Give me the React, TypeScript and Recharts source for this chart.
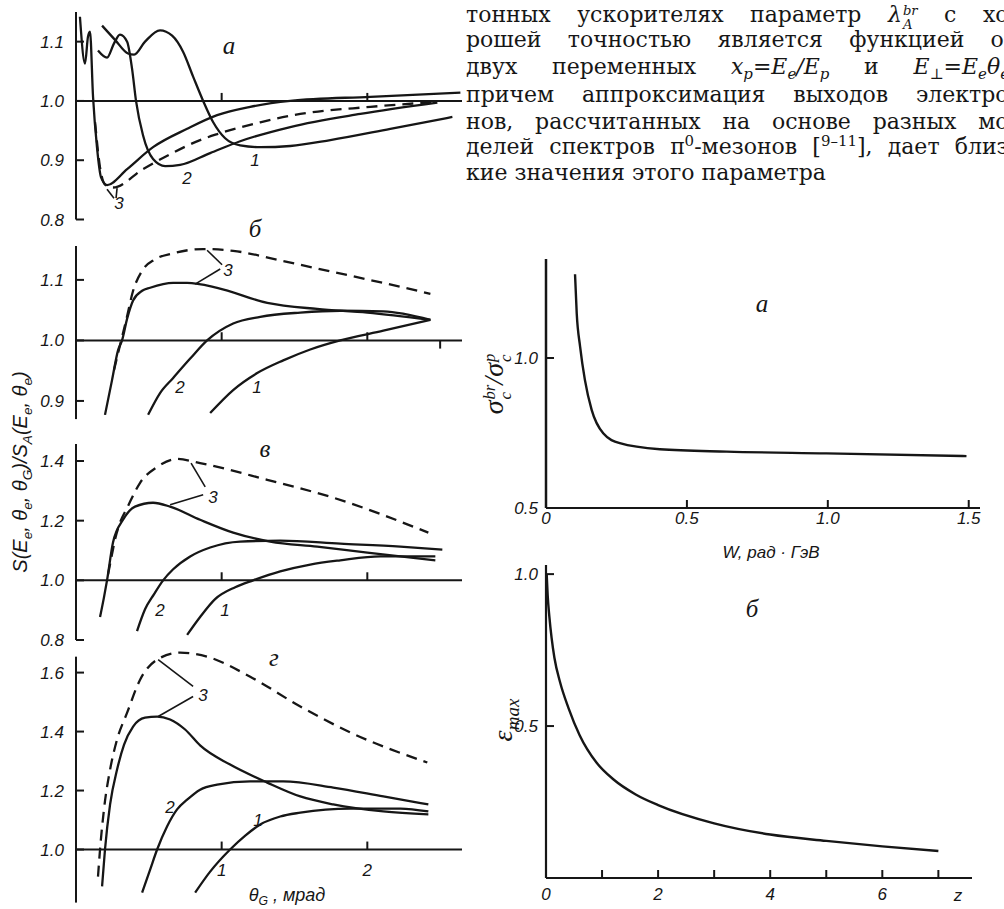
import React from 'react';
import { LineChart, Line, XAxis, YAxis, ReferenceLine } from 'recharts';

const INK = '#161616';
const SANS = "'Liberation Sans Narrow','Liberation Sans',Arial,sans-serif";
const SERIF = "'DejaVu Serif','Liberation Serif',serif";

// θ_G (мрад) → S/S_A, panel а
const a1 = [[0.179, 1.127], [0.268, 1.103], [0.357, 1.08], [0.399, 1.078], [0.474, 1.1], [0.577, 1.119], [0.66, 1.11], [0.735, 1.083], [0.804, 1.041], [0.873, 1.0], [0.942, 0.964], [1.024, 0.937], [1.127, 0.925], [1.265, 0.922], [1.471, 0.924], [1.746, 0.934], [2.158, 0.953], [2.584, 0.973]];
const a2 = [[0.151, 1.085], [0.213, 1.073], [0.261, 1.097], [0.302, 1.112], [0.351, 1.1], [0.385, 1.054], [0.412, 1.0], [0.46, 0.942], [0.529, 0.902], [0.612, 0.89], [0.715, 0.892], [0.921, 0.912], [1.127, 0.932], [1.471, 0.956], [1.952, 0.978], [2.481, 0.997]];
const a3 = [[0.027, 1.142], [0.062, 1.063], [0.082, 1.108], [0.096, 1.117], [0.117, 1.007], [0.144, 0.922], [0.172, 0.871], [0.213, 0.858], [0.351, 0.885], [0.529, 0.922], [0.763, 0.953], [0.969, 0.976], [1.196, 0.99], [1.471, 1.0], [2.021, 1.007], [2.639, 1.014]];
const a3d = [[0.131, 0.964], [0.165, 0.888], [0.199, 0.859], [0.254, 0.854], [0.46, 0.885], [0.646, 0.91], [0.852, 0.934], [0.969, 0.944], [1.265, 0.964], [1.54, 0.978], [2.021, 0.99], [2.454, 0.998]];

// panel б
const b1 = [[0.921, 0.88], [1.079, 0.918], [1.244, 0.946], [1.423, 0.967], [1.608, 0.985], [1.814, 1.0], [2.11, 1.016], [2.433, 1.034]];
const b2 = [[0.495, 0.877], [0.577, 0.913], [0.667, 0.938], [0.784, 0.97], [0.9, 1.0], [1.079, 1.028], [1.265, 1.039], [1.54, 1.046], [1.814, 1.049], [2.11, 1.048], [2.433, 1.034]];
const b3 = [[0.199, 0.877], [0.247, 0.934], [0.289, 0.984], [0.316, 1.0], [0.351, 1.036], [0.392, 1.066], [0.454, 1.082], [0.509, 1.087], [0.667, 1.095], [0.763, 1.095], [0.969, 1.087], [1.313, 1.062], [1.656, 1.052], [2.0, 1.046], [2.433, 1.034]];
const b3d = [[0.261, 0.951], [0.302, 0.992], [0.344, 1.033], [0.392, 1.082], [0.454, 1.115], [0.543, 1.134], [0.667, 1.144], [0.873, 1.151], [1.079, 1.148], [1.423, 1.131], [1.766, 1.113], [2.11, 1.095], [2.433, 1.077]];

// panel в
const c1 = [[0.763, 0.817], [0.852, 0.877], [0.955, 0.937], [1.093, 0.977], [1.216, 1.0], [1.402, 1.03], [1.608, 1.053], [1.814, 1.067], [2.089, 1.08], [2.467, 1.08]];
const c2 = [[0.419, 0.83], [0.474, 0.903], [0.535, 0.953], [0.598, 1.0], [0.667, 1.037], [0.784, 1.08], [0.921, 1.11], [1.127, 1.13], [1.402, 1.133], [1.814, 1.123], [2.227, 1.113], [2.515, 1.103]];
const c3 = [[0.165, 0.877], [0.192, 0.943], [0.213, 1.0], [0.254, 1.127], [0.323, 1.203], [0.405, 1.247], [0.529, 1.26], [0.646, 1.247], [0.852, 1.203], [1.079, 1.16], [1.333, 1.13], [1.656, 1.113], [2.0, 1.093], [2.467, 1.067]];
const c3d = [[0.22, 1.02], [0.247, 1.087], [0.268, 1.137], [0.302, 1.193], [0.351, 1.243], [0.44, 1.327], [0.557, 1.38], [0.694, 1.407], [0.852, 1.393], [1.313, 1.337], [1.766, 1.277], [2.419, 1.16]];

// panel г
const d1 = [[0.818, 0.854], [0.921, 0.925], [1.058, 1.0], [1.162, 1.047], [1.265, 1.085], [1.402, 1.112], [1.54, 1.125], [1.883, 1.139], [2.227, 1.139], [2.419, 1.129]];
const d2 = [[0.454, 0.854], [0.509, 0.932], [0.557, 1.0], [0.625, 1.078], [0.694, 1.136], [0.763, 1.169], [0.852, 1.203], [0.969, 1.22], [1.196, 1.231], [1.423, 1.231], [1.766, 1.21], [2.11, 1.18], [2.419, 1.153]];
const d3 = [[0.179, 0.875], [0.199, 1.0], [0.234, 1.153], [0.282, 1.271], [0.33, 1.356], [0.392, 1.417], [0.474, 1.447], [0.557, 1.451], [0.646, 1.441], [0.749, 1.407], [0.852, 1.353], [1.058, 1.288], [1.313, 1.227], [1.54, 1.18], [1.766, 1.153], [2.11, 1.129], [2.419, 1.119]];
const d3d = [[0.151, 0.908], [0.165, 1.0], [0.192, 1.136], [0.234, 1.271], [0.282, 1.373], [0.351, 1.464], [0.44, 1.576], [0.557, 1.644], [0.715, 1.668], [0.9, 1.654], [1.196, 1.586], [1.54, 1.485], [1.883, 1.397], [2.412, 1.295]];

// leader lines to the "3" labels
const aLead = [[[0.213, 0.851], [0.261, 0.836]], [[0.282, 0.853], [0.275, 0.836]]];
const bLead = [[[0.9, 1.149], [1.003, 1.125]], [[0.818, 1.093], [0.99, 1.118]]];
const cLead = [[[0.79, 1.393], [0.887, 1.313]], [[0.646, 1.253], [0.873, 1.287]]];
const dLead = [[[0.564, 1.644], [0.804, 1.553]], [[0.564, 1.451], [0.804, 1.519]]];

// σ_c^br / σ_c^p vs W
const wVals = [0.103, 0.109, 0.121, 0.138, 0.162, 0.203, 0.262, 0.404, 0.641, 0.995, 1.492];
const sigmaRatio = [1.279, 1.149, 1.038, 0.927, 0.827, 0.749, 0.716, 0.696, 0.688, 0.682, 0.673];

// ε_max vs z
const zVals = [0.012, 0.03, 0.06, 0.1, 0.15, 0.25, 0.4, 0.6, 0.9, 1.2, 1.6, 2.0, 3.0, 4.0, 5.0, 6.0, 7.0];
const epsMax = [1.0, 0.93, 0.86, 0.79, 0.725, 0.645, 0.56, 0.47, 0.38, 0.325, 0.275, 0.24, 0.18, 0.143, 0.122, 0.104, 0.089];

const toPts = (arr: number[][]) => arr.map(([x, y]) => ({ x, y }));
const zip = (xs: number[], ys: number[]) => xs.map((x, i) => ({ x, y: ys[i] }));

const tickStyle = { fontFamily: SANS, fontStyle: 'italic', fontSize: 17, fill: INK };

type Curve = { pts: number[][]; dashed?: boolean };
type Panel = {
  id: string;
  top: number;
  bottom: number;
  domain: [number, number];
  axisTop?: number;
  ticks: number[];
  mark: number;
  curves: Curve[];
  leads: number[][][];
  xLabels?: boolean;
  downTick?: number;
};

const panels: Panel[] = [
  { id: 'a', top: 11.5, bottom: 219, domain: [0.8, 1.15], ticks: [0.8, 0.9, 1.0, 1.1], mark: 0.0135,
    curves: [{ pts: a1 }, { pts: a2 }, { pts: a3 }, { pts: a3d, dashed: true }], leads: aLead },
  { id: 'b', top: 245.6, bottom: 418.7, domain: [0.87, 1.156], ticks: [0.9, 1.0, 1.1], mark: 0.0135,
    curves: [{ pts: b1 }, { pts: b2 }, { pts: b3 }, { pts: b3d, dashed: true }], leads: bLead, downTick: 2.5 },
  { id: 'c', top: 444, bottom: 640, domain: [0.8, 1.457], ticks: [0.8, 1.0, 1.2, 1.4], mark: 0.027,
    curves: [{ pts: c1 }, { pts: c2 }, { pts: c3 }, { pts: c3d, dashed: true }], leads: cLead },
  { id: 'd', top: 649.4, bottom: 903, domain: [0.82, 1.68], axisTop: 1.654, ticks: [1.0, 1.2, 1.4, 1.6], mark: 0.027,
    curves: [{ pts: d1 }, { pts: d2 }, { pts: d3 }, { pts: d3d, dashed: true }], leads: dLead, xLabels: true },
];

const PAD = 12;
const AXIS_W = 56;

function ThetaPanel({ p }: { p: Panel }) {
  const h = p.bottom - p.top;
  const ownAxis = p.axisTop !== undefined;
  return (
    <div style={{ position: 'absolute', left: 76 - AXIS_W, top: p.top - PAD }}>
      <LineChart width={AXIS_W + 386 + PAD} height={h + 2 * PAD} margin={{ top: PAD, right: PAD, bottom: PAD, left: 0 }}>
        <XAxis type="number" dataKey="x" domain={[0, 2.65]} hide allowDataOverflow />
        <YAxis
          type="number"
          domain={p.domain}
          ticks={p.ticks}
          width={AXIS_W}
          allowDataOverflow
          tickSize={-8}
          tickMargin={20}
          axisLine={ownAxis ? false : { stroke: INK, strokeWidth: 2 }}
          tickLine={{ stroke: INK, strokeWidth: 2 }}
          tick={tickStyle}
          tickFormatter={(v: number) => v.toFixed(1)}
        />
        {ownAxis && (
          <ReferenceLine segment={[{ x: 0, y: p.domain[0] }, { x: 0, y: p.axisTop as number }]} stroke={INK} strokeWidth={2} />
        )}
        <ReferenceLine y={1} stroke={INK} strokeWidth={2} />
        {[1, 2].map((t) => (
          <ReferenceLine
            key={t}
            segment={[{ x: t, y: 1 }, { x: t, y: 1 + p.mark }]}
            stroke={INK}
            strokeWidth={2}
            label={p.xLabels ? { value: String(t), position: 'bottom', offset: 14, style: tickStyle } : undefined}
          />
        ))}
        {p.downTick && (
          <ReferenceLine segment={[{ x: p.downTick, y: 1 }, { x: p.downTick, y: 1 - p.mark }]} stroke={INK} strokeWidth={2} />
        )}
        {p.leads.map((s, i) => (
          <ReferenceLine key={'l' + i} segment={[{ x: s[0][0], y: s[0][1] }, { x: s[1][0], y: s[1][1] }]} stroke={INK} strokeWidth={1.6} />
        ))}
        {p.curves.map((c, i) => (
          <Line
            key={i}
            data={toPts(c.pts)}
            dataKey="y"
            type="monotone"
            stroke={INK}
            strokeWidth={2.3}
            strokeDasharray={c.dashed ? '11 7' : undefined}
            dot={false}
            activeDot={false}
            isAnimationActive={false}
          />
        ))}
      </LineChart>
    </div>
  );
}

const txt = (x: number, y: number, s: React.CSSProperties = {}): React.CSSProperties => ({
  position: 'absolute',
  left: x,
  top: y,
  transform: 'translate(-50%,-50%)',
  whiteSpace: 'nowrap',
  fontFamily: SANS,
  fontStyle: 'italic',
  fontSize: 17,
  color: INK,
  lineHeight: 1,
  ...s,
});

const sub: React.CSSProperties = { fontSize: '0.68em', verticalAlign: '-0.35em', lineHeight: 0 };
const sup: React.CSSProperties = { fontSize: '0.68em', verticalAlign: '0.55em', lineHeight: 0 };
// superscript over subscript, e.g. λ with br above and A below
const stack: React.CSSProperties = {
  display: 'inline-flex',
  flexDirection: 'column',
  fontSize: '0.6em',
  lineHeight: 1,
  verticalAlign: '0.5em',
  marginLeft: 1,
};

const letter = (x: number, y: number, ch: string) => (
  <div style={txt(x, y, { fontFamily: "'Liberation Serif',serif", fontSize: 25 })}>{ch}</div>
);

const curveNo: [number, number, string][] = [
  [255, 160, '1'], [187, 178, '2'], [119, 203, '3'],
  [228, 270, '3'], [180, 387, '2'], [257, 387, '1'],
  [213, 497, '3'], [160, 610, '2'], [225, 610, '1'],
  [203, 695, '3'], [170, 807, '2'], [258, 820, '1'],
];

const lineStyle = (top: number, justify = true): React.CSSProperties => ({
  position: 'absolute',
  left: 466,
  top: top - 13,
  width: 550,
  height: 26,
  lineHeight: '26px',
  fontFamily: SERIF,
  fontSize: 22,
  color: INK,
  whiteSpace: 'nowrap',
  textAlign: justify ? 'justify' : 'left',
  textAlignLast: justify ? 'justify' : 'left',
});

const m: React.CSSProperties = { fontStyle: 'italic' };

export default function App() {
  return (
    <div style={{ position: 'absolute', left: 0, top: 0, width: 1004, height: 909, overflow: 'hidden', background: '#fff' }}>
      {panels.map((p) => (
        <ThetaPanel key={p.id} p={p} />
      ))}
      {letter(229, 45, 'а')}
      {letter(255, 228, 'б')}
      {letter(265, 448, 'в')}
      {letter(274, 657, 'г')}
      {curveNo.map(([x, y, s], i) => (
        <div key={i} style={txt(x, y)}>{s}</div>
      ))}
      <div style={txt(20, 472, { fontSize: 20, transform: 'translate(-50%,-50%) rotate(-90deg)' })}>
        S(E<span style={sub}>e</span>, θ<span style={sub}>e</span>, θ<span style={sub}>G</span>)/S<span style={sub}>A</span>(E<span style={sub}>e</span>, θ<span style={sub}>e</span>)
      </div>
      <div style={txt(287, 895, { fontSize: 18 })}>
        θ<span style={sub}>G</span> , мрад
      </div>

      {/* text column */}
      <div style={{ position: 'absolute', left: 0, top: 0, width: 1004, height: 200, overflow: 'hidden' }}>
        <div style={lineStyle(15)}>
          тонных ускорителях параметр <span style={m}>λ</span>
          <span style={stack}><span style={m}>br</span><span style={m}>A</span></span> с хо-
        </div>
        <div style={lineStyle(40)}>рошей точностью является функцией от</div>
        <div style={lineStyle(67)}>
          двух переменных <span style={m}>x<span style={sub}>p</span>=E<span style={sub}>e</span>/E<span style={sub}>p</span></span> и{' '}
          <span style={m}>E<span style={sub}>⊥</span>=E<span style={sub}>e</span>θ<span style={sub}>e</span></span>,
        </div>
        <div style={lineStyle(95)}>причем аппроксимация выходов электро-</div>
        <div style={lineStyle(122)}>нов, рассчитанных на основе разных мо-</div>
        <div style={lineStyle(147)}>
          делей спектров π<span style={sup}>0</span>-мезонов [<span style={sup}>9–11</span>], дает близ-
        </div>
        <div style={lineStyle(173, false)}>кие значения этого параметра</div>
      </div>

      {/* σ ratio vs W */}
      <div style={{ position: 'absolute', left: 546 - 60, top: 259 - PAD }}>
        <LineChart width={60 + 434 + PAD} height={249 + PAD + 40} margin={{ top: PAD, right: PAD, bottom: 0, left: 0 }}>
          <XAxis
            type="number"
            dataKey="x"
            domain={[0, 1.54]}
            ticks={[0, 0.5, 1, 1.5]}
            height={40}
            allowDataOverflow
            tickSize={-8}
            tickMargin={12}
            axisLine={{ stroke: INK, strokeWidth: 2.2 }}
            tickLine={{ stroke: INK, strokeWidth: 2 }}
            tick={tickStyle}
            tickFormatter={(v: number) => (v === 0 ? '0' : v.toFixed(1))}
          />
          <YAxis
            type="number"
            domain={[0.5, 1.33]}
            ticks={[0.5, 1.0]}
            width={60}
            allowDataOverflow
            tickSize={-8}
            tickMargin={16}
            axisLine={{ stroke: INK, strokeWidth: 2.5 }}
            tickLine={{ stroke: INK, strokeWidth: 2 }}
            tick={tickStyle}
            tickFormatter={(v: number) => v.toFixed(1)}
          />
          <Line data={zip(wVals, sigmaRatio)} dataKey="y" type="monotone" stroke={INK} strokeWidth={2.4} dot={false} activeDot={false} isAnimationActive={false} />
        </LineChart>
      </div>
      {letter(762, 303, 'а')}
      <div style={txt(771, 552)}>W, рад · ГэВ</div>
      <div style={txt(498, 384, { fontFamily: "'Liberation Serif',serif", fontSize: 28, transform: 'translate(-50%,-50%) rotate(-90deg)' })}>
        σ<span style={stack}><span>br</span><span>c</span></span>/σ<span style={stack}><span>p</span><span>c</span></span>
      </div>

      {/* ε_max vs z */}
      <div style={{ position: 'absolute', left: 546 - 60, top: 565 - PAD }}>
        <LineChart width={60 + 426 + PAD} height={313 + PAD + 40} margin={{ top: PAD, right: PAD, bottom: 0, left: 0 }}>
          <XAxis
            type="number"
            dataKey="x"
            domain={[0, 7.6]}
            ticks={[0, 1, 2, 3, 4, 5, 6, 7]}
            height={40}
            allowDataOverflow
            tickSize={-8}
            tickMargin={18}
            axisLine={{ stroke: INK, strokeWidth: 2.2 }}
            tickLine={{ stroke: INK, strokeWidth: 2 }}
            tick={tickStyle}
            tickFormatter={(v: number) => (v % 2 === 0 ? String(v) : '')}
          />
          <YAxis
            type="number"
            domain={[0, 1.03]}
            ticks={[0.5, 1.0]}
            width={60}
            allowDataOverflow
            tickSize={-8}
            tickMargin={16}
            axisLine={{ stroke: INK, strokeWidth: 2.2 }}
            tickLine={{ stroke: INK, strokeWidth: 2 }}
            tick={tickStyle}
            tickFormatter={(v: number) => v.toFixed(1)}
          />
          <Line data={zip(zVals, epsMax)} dataKey="y" type="monotone" stroke={INK} strokeWidth={2.4} dot={false} activeDot={false} isAnimationActive={false} />
        </LineChart>
      </div>
      {letter(752, 608, 'б')}
      <div style={txt(958, 895)}>z</div>
      <div style={txt(503, 720, { fontFamily: "'Liberation Serif',serif", fontSize: 28, transform: 'translate(-50%,-50%) rotate(-90deg)' })}>
        ε<span style={sub}>max</span>
      </div>
    </div>
  );
}
